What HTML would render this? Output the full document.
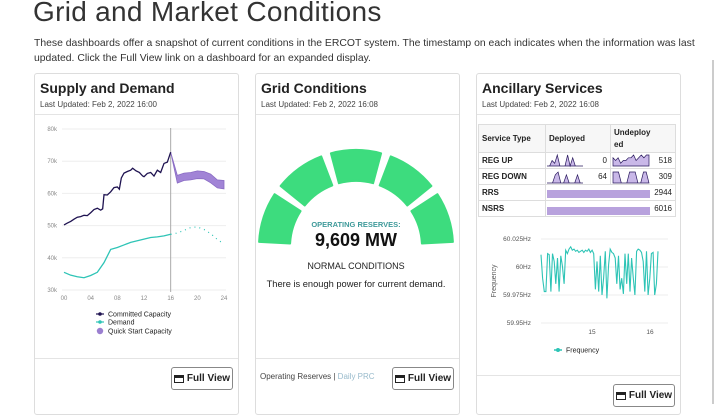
<!DOCTYPE html>
<html><head><meta charset="utf-8">
<style>
body{margin:0;width:720px;height:404px;overflow:hidden;background:#fff;font-family:"Liberation Sans",sans-serif;color:#222;position:relative}
.abs{position:absolute}
.card{position:absolute;top:73px;width:203px;height:340px;border:1px solid #ddd;border-radius:3px;background:#fff}
.ct{position:absolute;left:5px;top:6px;font-size:14px;font-weight:bold;color:#222}
.cu{position:absolute;left:5px;top:26px;font-size:8px;color:#444}
.sep{position:absolute;left:0;right:0;height:1px;background:#e4e4e4}
.btn{position:absolute;width:60px;height:21px;border:1px solid #888;border-radius:3px;font-size:10px;font-weight:bold;display:flex;align-items:center;justify-content:center;gap:3px;color:#222;background:#fff}
.btn i{display:inline-block;width:10px;height:8px;border:1.5px solid #222;border-top-width:3px;box-sizing:border-box}
table{border-collapse:collapse;font-size:8px;font-weight:bold}
td{border:1px solid #ddd;padding:0 3px;height:15px}
</style></head><body>
<div class="abs" style="left:33px;top:-4px;font-size:28px;color:#333;letter-spacing:0.3px">Grid and Market Conditions</div>
<div class="abs" style="left:34px;top:36px;width:680px;font-size:10.4px;line-height:15px;color:#333">These dashboards offer a snapshot of current conditions in the ERCOT system. The timestamp on each indicates when the information was last updated. Click the Full View link on a dashboard for an expanded display.</div>
<div class="abs" style="right:6px;top:60px;width:2px;height:344px;background:#ccc"></div>

<div class="card" style="left:34px">
 <div class="ct">Supply and Demand</div>
 <div class="cu">Last Updated: Feb 2, 2022 16:00</div>
 <div class="sep" style="top:40px"></div>
 <div class="sep" style="top:284px"></div>
 <div class="btn" style="left:136px;top:293px"><i></i>Full View</div>
</div>
<div class="card" style="left:255px">
 <div class="ct">Grid Conditions</div>
 <div class="cu">Last Updated: Feb 2, 2022 16:08</div>
 <div class="sep" style="top:40px"></div>
 <div class="sep" style="top:284px"></div>
 <div class="abs" style="left:4px;top:298px;font-size:8px;color:#444">Operating Reserves | <span style="color:#9bc">Daily PRC</span></div>
 <div class="btn" style="left:136px;top:293px"><i></i>Full View</div>
</div>
<div class="card" style="left:476px">
 <div class="ct">Ancillary Services</div>
 <div class="cu">Last Updated: Feb 2, 2022 16:08</div>
 <div class="sep" style="top:40px"></div>
 <div class="sep" style="top:301px"></div>
 <div class="btn" style="left:136px;top:310px"><i></i>Full View</div>
</div>

<svg class="abs" style="left:0;top:0" width="720" height="404" id="svg"></svg>

<div class="abs" style="left:478px;top:124px">
<table>
<tr style="height:28px;background:#f7f7f7"><td style="width:60px">Service Type</td><td style="width:58px">Deployed</td><td style="width:58px;line-height:12px">Undeploy<br>ed</td></tr>
<tr><td>REG UP</td><td id="c1" style="text-align:right;font-weight:normal">0</td><td id="c2" style="text-align:right;font-weight:normal">518</td></tr>
<tr><td>REG DOWN</td><td id="c3" style="text-align:right;font-weight:normal">64</td><td id="c4" style="text-align:right;font-weight:normal">309</td></tr>
<tr><td>RRS</td><td colspan="2" style="text-align:right;font-weight:normal">2944</td></tr>
<tr><td>NSRS</td><td colspan="2" style="text-align:right;font-weight:normal">6016</td></tr>
</table></div>

<script>
const hoursCap=[0,0.5,1,1.5,2,2.5,3,3.5,4,4.5,5,5.5,5.8,6,6.5,7,7.5,8,8.3,8.6,9,9.5,10,10.3,10.8,11.3,11.8,12,12.5,13,13.5,14,14.5,15,15.5,16];
const capValues=[50.2,50.8,51.3,52,52.6,52.8,53.2,53.1,54,55,55.4,54.8,55.2,59.6,59.5,60.5,61.8,62,61.3,64.8,66.3,66.8,67.2,67.8,67,66.5,65.4,65.2,66.2,66.5,65.4,67.2,66.5,69.3,69.7,72.8];
const hoursQs=[16,17,18,19,20,21,22,23,24];
const qsUpper=[72.8,65.6,66.3,66.5,67,66.8,66,64.2,64];
const qsLower=[72.8,63.2,64,64.2,64.6,64.5,63.3,61.7,61.4];
const hoursDem=[0,1,2,3,4,5,6,7,8,9,10,11,12,13,14,15,16];
const demValues=[35.5,34.6,34.1,33.8,34.5,35.5,38.5,42.6,43.2,44,44.8,45.3,45.8,46.3,46.5,46.8,47.3];
const hoursFc=[16,17,18,19,20,21,22,23,24];
const fcValues=[47.3,47.7,48.5,49.4,49.6,48.8,47.5,45.7,44.3];
const yTicks=[30,40,50,60,70,80];
const xTicks=[0,4,8,12,16,20,24];
const freqValues=[60.011,59.99,59.978,59.978,60.012,60.011,59.978,60.012,60.005,59.985,60.008,59.978,60.01,60.001,59.985,60.015,60.012,60.016,60.018,60.015,60.016,60.014,60.015,60.013,60.014,60.015,60.013,60.015,60.014,60.016,60.013,60.015,60.012,59.98,60.005,59.978,60.01,59.975,59.99,60.014,59.972,60.002,60.016,60.013,60.012,60.008,59.985,60.01,59.98,59.99,59.976,60.012,59.985,60.012,59.978,60.008,59.99,59.975,60.014,60.016,60.015,60.013,60.005,59.978,60.014,59.975,59.99,60.012,60.013,59.975,59.985,60.014];
const freqTicks=[60.025,60,59.975,59.95];
const freqTickLabels=["60.025Hz","60Hz","59.975Hz","59.95Hz"];
const spark1=[0,0,2,1,4,0,0,0,4,0,3,0,0,0,0];
const spark2=[3,2,3,1,2,2,3,3,4,2,3,4,3,4,4];
const spark3=[0,0,0,3,4,0,0,3,0,0,0,3,0,0];
const spark4=[4,4,4,0,0,0,4,4,4,0,0,4,4,0];

const NS="http://www.w3.org/2000/svg",svg=document.getElementById('svg');
function mk(t,a,p){const e=document.createElementNS(NS,t);for(const k in a)e.setAttribute(k,a[k]);(p||svg).appendChild(e);return e;}
const sx=h=>64+h*(160/24), sy=v=>290-(v-30)*(161/50);
yTicks.forEach(v=>{const l=mk('line',{x1:62,x2:226,y1:sy(v),y2:sy(v),stroke:'#eee'});
 const t=mk('text',{x:57,y:sy(v)+2,'font-size':6,fill:'#888','text-anchor':'end'});t.textContent=v+'k';});
xTicks.forEach(h=>{const t=mk('text',{x:sx(h),y:300,'font-size':6,fill:'#888','text-anchor':'middle'});t.textContent=String(h).padStart(2,'0');});
let vl=mk('line',{x1:sx(16),x2:sx(16),y1:128,y2:292,stroke:'#aaa','stroke-width':1});
let band='M'+hoursQs.map((h,i)=>sx(h)+','+sy(qsUpper[i])).join('L')+'L'+hoursQs.map((h,i)=>sx(h)+','+sy(qsLower[i])).reverse().join('L')+'Z';
let b=mk('path',{d:band,fill:'#a184d6',stroke:'#8a6cc4','stroke-width':0.8});
let c=mk('polyline',{points:hoursCap.map((h,i)=>sx(h)+','+sy(capValues[i])).join(' '),fill:'none',stroke:'#1e1250','stroke-width':1.3});
let d=mk('polyline',{points:hoursDem.map((h,i)=>sx(h)+','+sy(demValues[i])).join(' '),fill:'none',stroke:'#2ec4b6','stroke-width':1.3});
let f=mk('polyline',{points:hoursFc.map((h,i)=>sx(h)+','+sy(fcValues[i])).join(' '),fill:'none',stroke:'#2ec4b6','stroke-width':1.2,'stroke-dasharray':'1 4'});
[['Committed Capacity','#1e1250',316],['Demand','#2ec4b6',324],['Quick Start Capacity','#9b7fd0',333]].forEach((e,i)=>{
 const g=mk('g',{});
 if(i<2){mk('line',{x1:96,x2:104,y1:e[2]-2,y2:e[2]-2,stroke:e[1],'stroke-width':1.2},g);mk('circle',{cx:100,cy:e[2]-2,r:1.8,fill:e[1]},g);}
 else mk('circle',{cx:100,cy:e[2]-2,r:3.2,fill:e[1]},g);
 const t=mk('text',{x:108,y:e[2]+0.5,'font-size':7,fill:'#222'},g);t.textContent=e[0];});
const gcx=356,gcy=247,R=97,r=66;
for(let i=0;i<5;i++){const a0=Math.PI-(i*36+3)*Math.PI/180,a1=Math.PI-((i+1)*36-3)*Math.PI/180;
 const p=(rad,a)=>(gcx+rad*Math.cos(a)).toFixed(1)+','+(gcy-rad*Math.sin(a)).toFixed(1);
 const s=mk('path',{d:`M${p(R,a0)}A${R},${R} 0 0 1 ${p(R,a1)}L${p(r,a1)}A${r},${r} 0 0 0 ${p(r,a0)}Z`,fill:'#3ddc7e','stroke':'#3ddc7e','stroke-width':2,'stroke-linejoin':'round'});
 }
[['OPERATING RESERVES:',227,7.5,'#3f9a9a','bold'],['9,609 MW',246,18,'#111','bold'],['NORMAL CONDITIONS',269,9,'#222','normal'],['There is enough power for current demand.',287,9.3,'#222','normal']].forEach((e,i)=>{
 const t=mk('text',{x:gcx,y:e[1],'font-size':e[2],fill:e[3],'font-weight':e[4],'text-anchor':'middle'});t.textContent=e[0];
 });
function spark(arr,x0,y0,w,h,name){const pts=arr.map((v,i)=>(x0+i*w/(arr.length-1)).toFixed(1)+','+(y0+h-v/4*h).toFixed(1));
 const a=mk('path',{d:'M'+x0+','+(y0+h)+'L'+pts.join('L')+'L'+(x0+w)+','+(y0+h)+'Z',fill:'#c9b8e8',stroke:'#2a1a5e','stroke-width':0.7});}
spark(spark1,547,155,36,11,'reg-up-deployed-spark');spark(spark2,613,155,36,11,'reg-up-undeployed-spark');
spark(spark3,547,172,36,11,'reg-down-deployed-spark');spark(spark4,613,172,36,11,'reg-down-undeployed-spark');
let rb=mk('rect',{x:547,y:190,width:103,height:8,fill:'#b8a2dd'});
let nb=mk('rect',{x:547,y:207,width:103,height:8,fill:'#b8a2dd'});
const fx=i=>541+i*(117/(freqValues.length-1)), fy=v=>267-(v-60)*(28/0.025);
freqTicks.forEach((v,i)=>{const l=mk('line',{x1:541,x2:668,y1:fy(v),y2:fy(v),stroke:'#eee'});
 const t=mk('text',{x:531,y:fy(v)+2,'font-size':6.5,fill:'#555','text-anchor':'end'});t.textContent=freqTickLabels[i];});
[['15',592],['16',650]].forEach(e=>{const t=mk('text',{x:e[1],y:334,'font-size':6.5,fill:'#555','text-anchor':'middle'});t.textContent=e[0];});
let yt=mk('text',{x:0,y:0,'font-size':7,fill:'#555','text-anchor':'middle',transform:'translate(496,281) rotate(-90)'});yt.textContent='Frequency';
let fl=mk('polyline',{points:freqValues.map((v,i)=>fx(i).toFixed(1)+','+fy(v).toFixed(1)).join(' '),fill:'none',stroke:'#2ec4b6','stroke-width':1.1});
let lg=mk('g',{});
mk('line',{x1:554,x2:562,y1:350,y2:350,stroke:'#2ec4b6','stroke-width':1.5},lg);mk('circle',{cx:558,cy:350,r:2,fill:'#2ec4b6'},lg);
let lt=mk('text',{x:566,y:352.5,'font-size':7,fill:'#222'},lg);lt.textContent='Frequency';
</script>
</body></html>
